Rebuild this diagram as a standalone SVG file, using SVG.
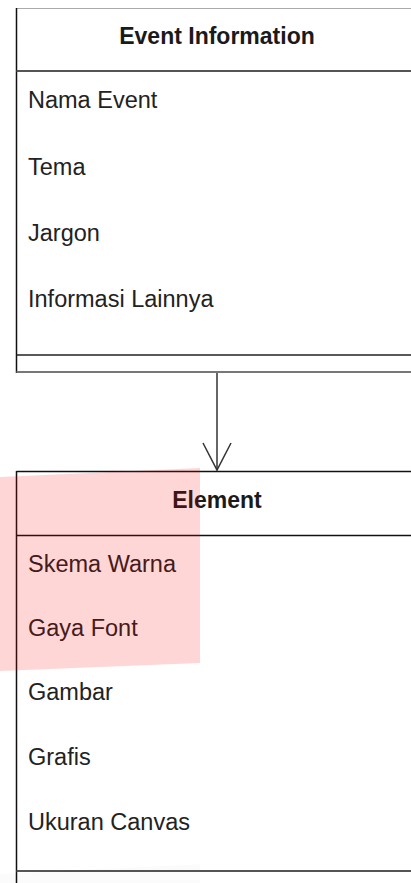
<svg xmlns="http://www.w3.org/2000/svg" width="411" height="883" viewBox="0 0 411 883">
<style>
.hdr{font-family:"Liberation Sans",Arial,sans-serif;font-size:23px;font-weight:bold;fill:#1a1a1a;text-anchor:middle}
.item{font-family:"Liberation Sans",Arial,sans-serif;font-size:23.5px;fill:#222}
.edge{stroke:#111;stroke-width:1.5;fill:none}
.conn{stroke:#333;stroke-width:1.5;fill:none}
</style>
<rect width="411" height="883" fill="#fff"/>
<g id="event-information">
<rect x="16.5" y="8.5" width="400" height="363.5" fill="#fff" stroke="none"/>
<line x1="16.5" y1="8.5" x2="411" y2="8.5" stroke="#aaa" stroke-width="1"/>
<line x1="16.5" y1="8" x2="16.5" y2="373" class="edge"/>
<line x1="16.5" y1="71" x2="411" y2="71" stroke="#555" stroke-width="2"/>
<line x1="16.5" y1="355" x2="411" y2="355" stroke="#222" stroke-width="1.5"/>
<line x1="16.5" y1="372" x2="411" y2="372" stroke="#777" stroke-width="2"/>
<text class="hdr" x="217" y="44">Event Information</text>
<text class="item" x="28" y="108">Nama Event</text>
<text class="item" x="28" y="175">Tema</text>
<text class="item" x="28" y="241">Jargon</text>
<text class="item" x="28" y="307">Informasi Lainnya</text>
</g>
<g id="connectors">
<line x1="217" y1="373" x2="217" y2="470" class="conn"/>
<polyline points="203,443 217,470 231,443" class="conn"/>
</g>
<g id="element">
<line x1="16.5" y1="471.5" x2="411" y2="471.5" class="edge"/>
<line x1="16.5" y1="471" x2="16.5" y2="883" class="edge"/>
<line x1="16.5" y1="535.5" x2="411" y2="535.5" class="edge"/>
<line x1="16.5" y1="871" x2="411" y2="871" stroke="#555" stroke-width="2"/>
<text class="hdr" x="217" y="508">Element</text>
<text class="item" x="28" y="572">Skema Warna</text>
<text class="item" x="28" y="636">Gaya Font</text>
<text class="item" x="28" y="700">Gambar</text>
<text class="item" x="28" y="765">Grafis</text>
<text class="item" x="28" y="830">Ukuran Canvas</text>
</g>
<polygon points="0,477 200,468 200,663 0,671" fill="#ff0000" fill-opacity="0.16"/>
<polygon points="0,874 200,864 200,883 0,883" fill="#000" fill-opacity="0.015"/>
</svg>
